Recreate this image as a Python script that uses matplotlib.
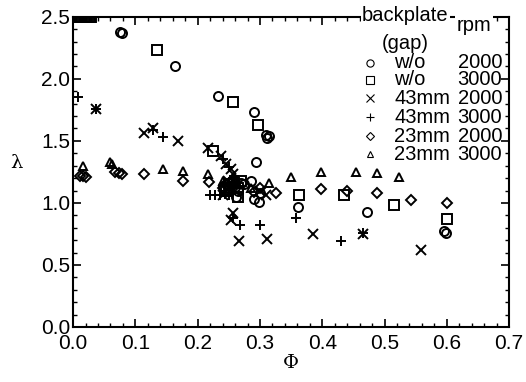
import numpy as np
import matplotlib
matplotlib.use("Agg")
import matplotlib.pyplot as plt
from matplotlib.ticker import MultipleLocator

plt.rcParams['font.family'] = ['Liberation Sans', 'DejaVu Sans']

# w/o backplate, 2000 rpm (circles)
phi_wo_2000 = [0.076, 0.078, 0.164, 0.233, 0.291, 0.310, 0.312, 0.314, 0.293, 0.262,
               0.298, 0.361, 0.472, 0.596, 0.598, 0.245, 0.250, 0.255, 0.260, 0.270,
               0.285, 0.300, 0.290, 0.240, 0.265, 0.275]
lam_wo_2000 = [2.38, 2.37, 2.10, 1.86, 1.73, 1.55, 1.52, 1.54, 1.33, 1.05,
               1.01, 0.97, 0.93, 0.77, 0.76, 1.15, 1.12, 1.17, 1.13, 1.16,
               1.18, 1.08, 1.03, 1.14, 1.10, 1.15]

# w/o backplate, 3000 rpm (squares)
phi_wo_3000 = [0.003, 0.005, 0.007, 0.009, 0.011, 0.013, 0.015, 0.017, 0.019, 0.021,
               0.023, 0.025, 0.027, 0.029, 0.134, 0.256, 0.297, 0.362, 0.435, 0.515,
               0.600, 0.264, 0.224, 0.250, 0.265, 0.270, 0.245, 0.258]
lam_wo_3000 = [2.50, 2.50, 2.50, 2.50, 2.50, 2.50, 2.50, 2.50, 2.50, 2.50,
               2.50, 2.50, 2.50, 2.50, 2.23, 1.81, 1.63, 1.06, 1.06, 0.98,
               0.87, 1.05, 1.42, 1.15, 1.12, 1.18, 1.10, 1.16]

# 43mm gap, 2000 rpm (x)
phi_43_2000 = [0.037, 0.113, 0.129, 0.169, 0.216, 0.237, 0.245, 0.253, 0.256, 0.250,
               0.260, 0.240, 0.253, 0.256, 0.267, 0.311, 0.385, 0.466, 0.559, 0.300,
               0.310, 0.248, 0.262]
lam_43_2000 = [1.76, 1.56, 1.60, 1.50, 1.44, 1.38, 1.31, 1.27, 1.23, 1.13,
               1.10, 1.06, 0.86, 0.92, 0.69, 0.71, 0.75, 0.75, 0.62, 1.10,
               1.06, 1.18, 1.15]

# 43mm gap, 3000 rpm (+)
phi_43_3000 = [0.008, 0.037, 0.129, 0.144, 0.220, 0.228, 0.236, 0.244, 0.250, 0.240,
               0.250, 0.258, 0.268, 0.300, 0.358, 0.430, 0.466, 0.256]
lam_43_3000 = [1.85, 1.76, 1.59, 1.53, 1.06, 1.06, 1.06, 1.07, 1.06, 1.35,
               1.29, 1.22, 0.82, 0.82, 0.88, 0.69, 0.76, 0.88]

# 23mm gap, 2000 rpm (diamonds)
phi_23_2000 = [0.011, 0.016, 0.021, 0.068, 0.074, 0.078, 0.113, 0.177, 0.218, 0.240,
               0.250, 0.290, 0.300, 0.325, 0.398, 0.440, 0.488, 0.542, 0.600]
lam_23_2000 = [1.22, 1.22, 1.21, 1.25, 1.24, 1.23, 1.23, 1.18, 1.17, 1.12,
               1.14, 1.09, 1.12, 1.08, 1.11, 1.10, 1.08, 1.02, 1.00]

# 23mm gap, 3000 rpm (triangles)
phi_23_3000 = [0.016, 0.060, 0.063, 0.144, 0.177, 0.217, 0.285, 0.314, 0.350, 0.398,
               0.454, 0.488, 0.523, 0.260, 0.240]
lam_23_3000 = [1.30, 1.33, 1.31, 1.27, 1.26, 1.23, 1.12, 1.16, 1.21, 1.25,
               1.25, 1.24, 1.21, 1.20, 1.18]

series = [
    (phi_wo_2000, lam_wo_2000, 'o', 6.5, 'w/o', '2000'),
    (phi_wo_3000, lam_wo_3000, 's', 6.5, 'w/o', '3000'),
    (phi_43_2000, lam_43_2000, 'x', 7, '43mm', '2000'),
    (phi_43_3000, lam_43_3000, '+', 7, '43mm', '3000'),
    (phi_23_2000, lam_23_2000, 'D', 5, '23mm', '2000'),
    (phi_23_3000, lam_23_3000, '^', 6, '23mm', '3000'),
]

fig = plt.figure(figsize=(5.26, 3.82), dpi=100)
ax = fig.add_axes([0.139, 0.144, 0.829, 0.812])

for x, y, m, ms, gap, rpm in series:
    ax.plot(x, y, ls='none', marker=m, ms=ms, mfc='none', mec='black', mew=1.4)

ax.set_xlim(0, 0.7)
ax.set_ylim(0, 2.5)
ax.xaxis.set_major_locator(MultipleLocator(0.1))
ax.xaxis.set_minor_locator(MultipleLocator(0.02))
ax.yaxis.set_major_locator(MultipleLocator(0.5))
ax.yaxis.set_minor_locator(MultipleLocator(0.1))
ax.tick_params(which='both', direction='in', top=True, right=True, labelsize=15)
ax.tick_params(which='major', length=6, width=1.2)
ax.tick_params(which='minor', length=3, width=1)
ax.tick_params(axis='x', pad=5)
ax.tick_params(axis='y', pad=2)
for s in ax.spines.values():
    s.set_linewidth(1.5)

ax.set_xlabel('Φ', fontsize=14, family='DejaVu Serif', labelpad=1)
ax.set_ylabel('λ', fontsize=14, family='DejaVu Serif', rotation=0, va='center')
ax.yaxis.set_label_coords(-0.13, 0.53)

# legend drawn by hand
bg = dict(facecolor='white', edgecolor='none', pad=1)
ax.text(0.762, 1.003, 'backplate', transform=ax.transAxes, ha='center', va='center',
        fontsize=14.5, bbox=bg, zorder=5, clip_on=False)
ax.text(0.92, 0.972, 'rpm', transform=ax.transAxes, ha='center', va='center',
        fontsize=14.5, bbox=bg, zorder=5, clip_on=False)
ax.text(0.762, 0.915, '(gap)', transform=ax.transAxes, ha='center', va='center',
        fontsize=14.5, zorder=5)
rows = [0.852, 0.797, 0.737, 0.676, 0.615, 0.557]
for (x, y, m, ms, gap, rpm), ry in zip(series, rows):
    ax.plot([0.681], [ry], transform=ax.transAxes, ls='none', marker=m,
            ms=ms * 0.8, mfc='none', mec='black', mew=0.8)
    ax.text(0.736, ry, gap, transform=ax.transAxes, ha='left', va='center', fontsize=14.5)
    ax.text(0.984, ry, rpm, transform=ax.transAxes, ha='right', va='center', fontsize=14.5)

fig.savefig('out.png', dpi=100)
